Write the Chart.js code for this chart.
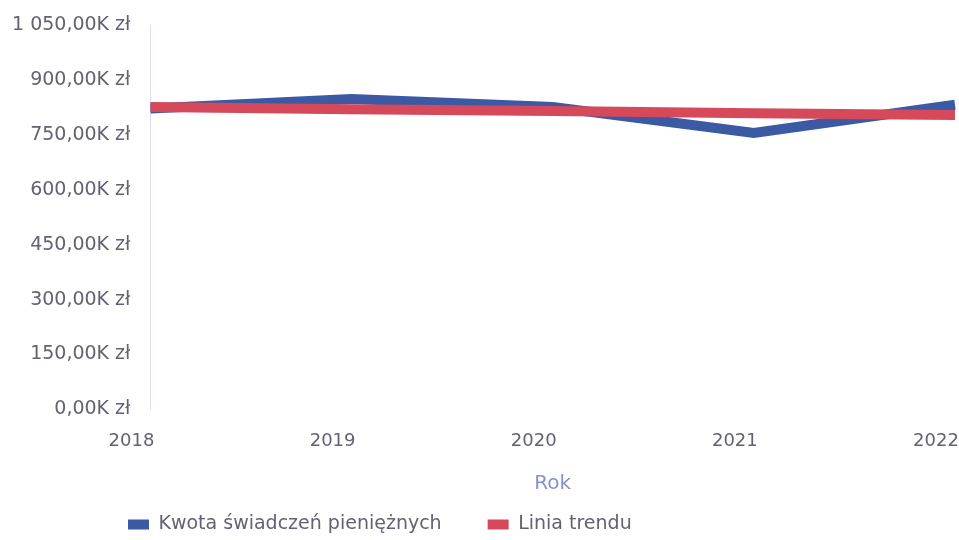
<!DOCTYPE html>
<html lang="pl">
  <head>
    <meta charset="UTF-8" />
    <title>Kwota świadczeń pieniężnych</title>
    <script src="https://cdn.jsdelivr.net/npm/chart.js"></script>
    <style>
      html, body { margin: 0; padding: 0; background: #fff; }
      #wrap { width: 959px; height: 540px; }
    </style>
  </head>
  <body>
    <div id="wrap"><canvas id="chart"></canvas></div>

    <script>
      // dane
      const years = ["2018", "2019", "2020", "2021", "2022"];
      const amounts = [822000, 848000, 826000, 755000, 832000];
      const trend = [826000, 820000, 815000, 809000, 804000];
      const yMax = 1050000;
      const yStep = 150000;

      const fmt = (v) => {
        const s = (v / 1000).toFixed(2).replace(".", ",");
        const [int, dec] = s.split(",");
        return int.replace(/\B(?=(\d{3})+(?!\d))/g, " ") + "," + dec + "K zł";
      };

      // przesunięcie legendy w prawo, jak na oryginale
      const legendShift = {
        id: "legendShift",
        afterLayout(chart) {
          chart.legend.left += 90;
          chart.legend.right += 90;
        },
      };

      const tickColor = "#636272";
      const font = "DejaVu Sans";

      new Chart(document.getElementById("chart"), {
        type: "line",
        data: {
          labels: years,
          datasets: [
            {
              label: "Kwota świadczeń pieniężnych",
              data: amounts,
              borderColor: "#3b5aa3",
              backgroundColor: "#3b5aa3",
              borderWidth: 10,
              pointRadius: 0,
              order: 1,
            },
            {
              label: "Linia trendu",
              data: trend,
              borderColor: "#d6495b",
              backgroundColor: "#d6495b",
              borderWidth: 10,
              pointRadius: 0,
              order: 0,
            },
          ],
        },
        options: {
          responsive: true,
          maintainAspectRatio: false,
          animation: false,
          layout: { padding: { top: 25, left: -8, right: 4, bottom: -4 } },
          plugins: {
            legend: {
              position: "bottom",
              align: "start",
              labels: {
                boxWidth: 21,
                boxHeight: 10,
                color: tickColor,
                font: { family: font, size: 19 },
                padding: 46,
                sort: (a, b) => a.datasetIndex - b.datasetIndex,
                generateLabels: (chart) =>
                  Chart.defaults.plugins.legend.labels
                    .generateLabels(chart)
                    .map((it) => ({ ...it, lineWidth: 0 })),
              },
            },
            tooltip: { enabled: false },
          },
          scales: {
            x: {
              offset: false,
              grid: { display: false, drawTicks: false },
              border: { display: false },
              afterFit: (s) => {
                s.paddingRight = 4;
                s.paddingLeft = 0;
              },
              ticks: {
                color: tickColor,
                font: { family: font, size: 18 },
                padding: 21,
                labelOffset: -19,
                maxRotation: 0,
              },
              title: {
                display: true,
                text: "Rok",
                color: "#8b8fce",
                font: { family: font, size: 20 },
                padding: { top: -1, bottom: -27 },
              },
            },
            y: {
              min: 0,
              max: yMax,
              grid: { display: false, drawTicks: false },
              border: { display: true, color: "#dcdcf0", width: 1 },
              afterFit: (s) => {
                s.paddingTop = 0;
              },
              ticks: {
                stepSize: yStep,
                color: tickColor,
                font: { family: font, size: 19 },
                padding: 20,
                callback: (v) => fmt(v),
              },
            },
          },
        },
        plugins: [legendShift],
      });
    </script>
  </body>
</html>
